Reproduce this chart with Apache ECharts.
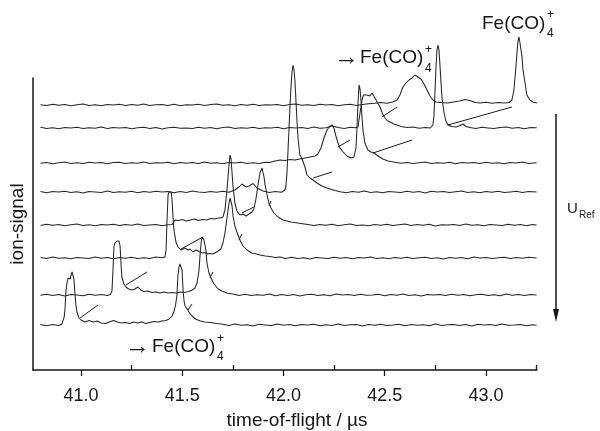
<!DOCTYPE html>
<html>
<head>
<meta charset="utf-8">
<script src="https://cdn.jsdelivr.net/npm/echarts@6/dist/echarts.min.js"></script>
<style>
  html, body { margin: 0; padding: 0; background: #fff; }
  #chart { width: 600px; height: 431px; }
</style>
</head>
<body>
<div id="chart"></div>
<script>
// Stacked time-of-flight spectra; each trace is [time / µs, ion signal] relative to its own baseline.
const traceOffsets = [45, 75, 112, 145, 178, 207, 242, 265];

const trace1 = [[40.80,0.5],[40.83,-0.8],[40.86,0.6],[40.89,-0.4],[40.905,0.8],[40.912,2],[40.917,8],[40.921,16],[40.926,35],[40.931,42],[40.936,47],[40.941,48],[40.946,46],[40.951,50],[40.956,53],[40.960,54],[40.965,46],[40.970,32],[40.975,20],[40.980,13],[40.990,7],[41.000,5],[41.02,3],[41.04,4.5],[41.06,3],[41.08,4],[41.10,2],[41.12,1.5],[41.14,3],[41.16,4.5],[41.18,3],[41.20,2],[41.22,2.5],[41.24,1.5],[41.26,3],[41.28,2],[41.30,3],[41.32,1.5],[41.34,2.5],[41.36,3.5],[41.38,3],[41.40,4],[41.42,4.5],[41.435,6],[41.450,9],[41.460,14],[41.467,20],[41.474,30],[41.479,50],[41.484,58],[41.489,61],[41.494,60],[41.499,55],[41.504,35],[41.509,24],[41.514,19],[41.524,16],[41.536,12],[41.548,9],[41.565,6],[41.59,4],[41.61,3],[41.64,2.5],[41.67,1.5],[41.70,0.8],[41.73,-0.4],[41.76,0.9],[41.79,-0.3],[41.82,0.2],[41.85,-0.9],[41.88,0.7],[41.91,0.1],[41.94,-0.6],[41.97,1.0],[42.00,-0.2],[42.03,0.4],[42.06,-0.8],[42.09,0.5],[42.12,-0.1],[42.15,0.8],[42.18,-0.7],[42.21,0.3],[42.24,-0.4],[42.27,0.9],[42.30,-0.6],[42.33,0.2],[42.36,0.6],[42.39,-0.9],[42.42,0.4],[42.45,-0.3],[42.48,0.7],[42.51,-0.5],[42.54,0.1],[42.57,0.8],[42.60,-0.8],[42.63,0.5],[42.66,-0.2],[42.69,0.3],[42.72,-0.7],[42.75,1.0],[42.78,-0.4],[42.81,0.2],[42.84,0.6],[42.87,-0.6],[42.90,0.4],[42.93,-0.9],[42.96,0.7],[42.99,-0.1],[43.02,0.5],[43.05,-0.5],[43.08,0.9],[43.11,-0.3],[43.14,0.1],[43.17,0.6],[43.20,-0.8],[43.23,0.3],[43.25,-0.2]];

const trace2 = [[40.80,-0.3],[40.83,0.7],[40.86,-0.6],[40.89,0.4],[40.92,-0.9],[40.95,0.6],[40.98,0.0],[41.01,-0.7],[41.04,0.8],[41.07,-0.2],[41.10,0.5],[41.13,-0.6],[41.145,0.4],[41.153,4],[41.158,25],[41.163,49],[41.168,52],[41.173,51],[41.178,54],[41.183,52],[41.188,54],[41.193,49],[41.198,30],[41.202,18],[41.212,11],[41.222,8],[41.235,6],[41.25,5],[41.267,6],[41.281,8],[41.295,5],[41.31,3.5],[41.33,4],[41.35,2.5],[41.37,3],[41.39,2],[41.41,3],[41.43,2],[41.45,2.5],[41.47,2],[41.49,3],[41.51,2.5],[41.53,3.5],[41.55,5],[41.563,7],[41.573,12],[41.583,25],[41.588,40],[41.593,52],[41.598,58],[41.602,60],[41.607,55],[41.612,50],[41.617,45],[41.622,32],[41.632,22],[41.642,17],[41.657,11],[41.677,6],[41.696,4],[41.72,2],[41.75,1],[41.78,-0.5],[41.81,0.8],[41.84,-0.6],[41.87,0.3],[41.90,-0.2],[41.93,0.9],[41.96,-0.7],[41.99,0.4],[42.02,-0.4],[42.05,0.6],[42.08,-0.9],[42.11,0.2],[42.14,0.7],[42.17,-0.5],[42.20,0.3],[42.23,-0.8],[42.26,0.9],[42.29,-0.1],[42.32,0.5],[42.35,-0.6],[42.38,0.8],[42.41,-0.3],[42.44,0.1],[42.47,0.7],[42.50,-0.7],[42.53,0.4],[42.56,-0.2],[42.59,0.9],[42.62,-0.5],[42.65,0.2],[42.68,-0.9],[42.71,0.6],[42.74,-0.1],[42.77,0.4],[42.80,-0.6],[42.83,0.8],[42.86,-0.3],[42.89,0.5],[42.92,-0.8],[42.95,0.2],[42.98,0.7],[43.01,-0.4],[43.04,0.3],[43.07,-0.7],[43.10,0.9],[43.13,-0.2],[43.16,0.4],[43.19,-0.6],[43.22,0.6],[43.25,-0.1]];

const trace3 = [[40.80,0.6],[40.83,-0.5],[40.86,0.9],[40.89,-0.3],[40.92,0.3],[40.95,-0.8],[40.98,0.5],[41.01,0.1],[41.04,-0.6],[41.07,0.9],[41.10,-0.2],[41.13,0.6],[41.16,-0.7],[41.19,0.4],[41.22,-0.3],[41.25,0.8],[41.28,-0.5],[41.31,0.2],[41.34,-0.6],[41.37,0.9],[41.40,0.2],[41.415,1],[41.420,8],[41.425,38],[41.430,63],[41.435,66],[41.440,64],[41.445,66],[41.450,58],[41.454,42],[41.459,28],[41.469,16],[41.479,11],[41.494,8],[41.504,9],[41.514,10],[41.528,8],[41.538,9],[41.553,6],[41.568,8],[41.578,7],[41.588,6],[41.600,5],[41.612,5.5],[41.625,4],[41.637,4.5],[41.650,4],[41.662,5],[41.677,7],[41.691,9],[41.701,15],[41.711,25],[41.721,40],[41.731,55],[41.736,60],[41.741,59],[41.746,52],[41.751,42],[41.760,32],[41.770,26],[41.785,18],[41.800,12],[41.820,8],[41.844,5],[41.865,4],[41.884,3],[41.91,2],[41.933,1.5],[41.96,0.5],[41.983,1],[42.01,-0.5],[42.04,0.7],[42.07,-0.4],[42.10,0.2],[42.13,-0.9],[42.16,0.5],[42.19,0.1],[42.22,-0.6],[42.25,0.8],[42.28,-0.2],[42.31,0.4],[42.34,-0.7],[42.37,0.6],[42.40,-0.1],[42.43,0.9],[42.46,-0.5],[42.49,0.3],[42.52,-0.8],[42.55,0.5],[42.58,-0.3],[42.61,0.7],[42.64,-0.6],[42.67,0.2],[42.70,0.8],[42.73,-0.4],[42.76,0.3],[42.79,-0.9],[42.82,0.6],[42.85,-0.2],[42.88,0.4],[42.91,-0.7],[42.94,0.9],[42.97,-0.1],[43.00,0.5],[43.03,-0.5],[43.06,0.2],[43.09,0.7],[43.12,-0.6],[43.15,0.4],[43.18,-0.3],[43.21,0.8],[43.25,0.1]];

const trace4 = [[40.80,-0.5],[40.83,0.8],[40.86,-0.2],[40.89,0.5],[40.92,-0.7],[40.95,0.3],[40.98,0.9],[41.01,-0.4],[41.04,0.2],[41.07,-0.8],[41.10,0.6],[41.13,-0.1],[41.16,0.7],[41.19,-0.6],[41.22,0.4],[41.25,-0.3],[41.28,0.9],[41.31,-0.5],[41.34,0.1],[41.37,0.6],[41.40,-0.7],[41.43,0.3],[41.450,0.5],[41.457,2.5],[41.464,5],[41.48,4.5],[41.50,5.5],[41.52,4],[41.54,5],[41.56,6],[41.58,4.5],[41.60,5.5],[41.62,5],[41.64,6.5],[41.66,6],[41.68,7],[41.691,7],[41.701,8],[41.711,15],[41.721,35],[41.731,60],[41.736,70],[41.741,66],[41.746,52],[41.751,38],[41.760,22],[41.770,14],[41.785,10],[41.800,11],[41.815,9],[41.830,11],[41.844,13],[41.854,16],[41.864,26],[41.874,40],[41.884,52],[41.894,57],[41.899,55],[41.904,48],[41.909,40],[41.919,30],[41.928,22],[41.938,17],[41.953,12],[41.973,8],[41.998,5],[42.037,3],[42.086,1.5],[42.12,0.4],[42.15,-0.6],[42.18,0.5],[42.21,-0.2],[42.24,0.8],[42.27,-0.7],[42.30,0.3],[42.33,0.9],[42.36,-0.4],[42.39,0.1],[42.42,-0.8],[42.45,0.6],[42.48,-0.3],[42.51,0.7],[42.54,-0.5],[42.57,0.2],[42.60,0.9],[42.63,-0.6],[42.66,0.4],[42.69,-0.2],[42.72,0.8],[42.75,-0.9],[42.78,0.3],[42.81,-0.1],[42.84,0.6],[42.87,-0.5],[42.90,0.9],[42.93,-0.3],[42.96,0.2],[42.99,-0.7],[43.02,0.5],[43.05,0.1],[43.08,-0.6],[43.11,0.8],[43.14,-0.2],[43.17,0.4],[43.20,-0.8],[43.23,0.6],[43.25,0.0]];

const trace5 = [[40.80,0.4],[40.83,-0.7],[40.86,0.5],[40.89,-0.1],[40.92,0.8],[40.95,-0.5],[40.98,0.2],[41.01,-0.9],[41.04,0.6],[41.07,0.1],[41.10,-0.4],[41.13,0.9],[41.16,-0.6],[41.19,0.3],[41.22,-0.2],[41.25,0.7],[41.28,-0.8],[41.31,0.5],[41.34,-0.3],[41.37,0.8],[41.40,-0.1],[41.43,0.4],[41.46,-0.7],[41.49,0.6],[41.52,-0.4],[41.55,0.9],[41.58,0.0],[41.61,-0.6],[41.64,0.5],[41.67,-0.2],[41.70,0.7],[41.73,-0.3],[41.760,2],[41.780,5],[41.795,8],[41.815,5],[41.830,6],[41.850,8.5],[41.869,4],[41.899,1],[41.93,-0.5],[41.96,0.6],[41.99,-0.2],[42.007,2],[42.012,6],[42.017,18],[42.022,40],[42.027,62],[42.032,85],[42.037,105],[42.042,120],[42.047,127],[42.052,122],[42.057,110],[42.062,90],[42.067,70],[42.072,54],[42.077,44],[42.081,37],[42.090,34],[42.096,32],[42.106,25],[42.116,17],[42.131,14],[42.146,12],[42.165,9],[42.190,6],[42.215,4],[42.254,1.5],[42.28,0.3],[42.31,-0.7],[42.34,0.5],[42.37,-0.2],[42.40,0.9],[42.43,-0.4],[42.46,0.2],[42.49,-0.8],[42.52,0.6],[42.55,0.1],[42.58,-0.5],[42.61,0.8],[42.64,-0.3],[42.67,0.4],[42.70,-0.9],[42.73,0.7],[42.76,-0.1],[42.79,0.5],[42.82,-0.6],[42.85,0.3],[42.88,0.9],[42.91,-0.4],[42.94,0.2],[42.97,-0.7],[43.00,0.6],[43.03,-0.2],[43.06,0.8],[43.09,-0.5],[43.12,0.1],[43.15,0.7],[43.18,-0.6],[43.21,0.4],[43.25,-0.1]];

const trace6 = [[40.80,-0.2],[40.83,0.6],[40.86,-0.7],[40.89,0.3],[40.92,0.9],[40.95,-0.4],[40.98,0.2],[41.01,-0.6],[41.04,0.7],[41.07,-0.1],[41.10,0.5],[41.13,-0.8],[41.16,0.4],[41.19,0.8],[41.22,-0.5],[41.25,0.2],[41.28,-0.3],[41.31,0.9],[41.34,-0.6],[41.37,0.3],[41.40,-0.1],[41.43,0.7],[41.46,-0.8],[41.49,0.5],[41.52,-0.2],[41.55,0.6],[41.58,-0.5],[41.61,0.9],[41.64,-0.3],[41.67,0.2],[41.70,-0.7],[41.73,0.5],[41.76,0.0],[41.79,0.8],[41.82,-0.4],[41.85,0.3],[41.88,-0.6],[41.91,0.7],[41.933,0.5],[41.958,2],[41.983,3],[42.007,2.5],[42.032,3.5],[42.057,3],[42.081,4],[42.106,5],[42.131,6],[42.156,7],[42.170,9],[42.185,15],[42.200,25],[42.215,33],[42.230,37],[42.240,38],[42.249,35],[42.259,27],[42.269,20],[42.279,15],[42.294,11],[42.314,7],[42.333,5],[42.348,6],[42.358,15],[42.363,35],[42.368,60],[42.373,78],[42.378,74],[42.383,62],[42.388,45],[42.393,32],[42.402,20],[42.417,13],[42.432,11],[42.447,10],[42.467,7],[42.491,4],[42.516,2],[42.551,0.8],[42.58,-0.3],[42.61,0.6],[42.64,-0.5],[42.67,0.2],[42.70,0.9],[42.73,-0.6],[42.76,0.3],[42.79,-0.2],[42.82,0.7],[42.85,-0.8],[42.88,0.4],[42.91,0.0],[42.94,0.6],[42.97,-0.5],[43.00,0.8],[43.03,-0.3],[43.06,0.2],[43.09,-0.7],[43.12,0.5],[43.15,0.1],[43.18,0.9],[43.21,-0.4],[43.25,0.3]];

const trace7 = [[40.80,0.7],[40.83,-0.4],[40.86,0.2],[40.89,-0.8],[40.92,0.5],[40.95,0.0],[40.98,0.8],[41.01,-0.5],[41.04,0.3],[41.07,-0.2],[41.10,0.9],[41.13,-0.6],[41.16,0.4],[41.19,-0.1],[41.22,0.6],[41.25,-0.7],[41.28,0.2],[41.31,0.8],[41.34,-0.4],[41.37,0.5],[41.40,-0.9],[41.43,0.3],[41.46,0.7],[41.49,-0.3],[41.52,0.1],[41.55,-0.6],[41.58,0.8],[41.61,-0.2],[41.64,0.5],[41.67,-0.8],[41.70,0.4],[41.73,0.9],[41.76,-0.5],[41.79,0.2],[41.82,-0.3],[41.85,0.7],[41.88,-0.6],[41.91,0.3],[41.94,-0.1],[41.97,0.8],[42.00,-0.7],[42.03,0.4],[42.06,0.0],[42.09,0.6],[42.12,-0.5],[42.15,0.9],[42.18,-0.2],[42.21,0.3],[42.24,2],[42.27,0.5],[42.30,-0.4],[42.33,0.7],[42.355,0.2],[42.368,1],[42.378,15],[42.388,28],[42.395,33],[42.402,35],[42.410,33],[42.417,34],[42.427,32],[42.437,35],[42.452,30],[42.465,25],[42.477,21],[42.490,14],[42.501,10],[42.515,7],[42.526,6],[42.545,4],[42.561,3],[42.58,1.5],[42.61,0.4],[42.64,1],[42.67,-0.3],[42.70,0.6],[42.725,0],[42.738,3],[42.743,12],[42.748,35],[42.753,60],[42.758,78],[42.763,83],[42.768,78],[42.773,62],[42.778,45],[42.783,30],[42.793,15],[42.802,7],[42.812,3],[42.832,1.5],[42.852,1],[42.872,2.5],[42.887,4],[42.901,1.5],[42.921,0.5],[42.95,-0.4],[42.98,0.7],[43.01,0.1],[43.04,-0.6],[43.07,0.5],[43.10,0.9],[43.13,-0.2],[43.16,0.4],[43.19,-0.7],[43.22,0.6],[43.25,0.2]];

const trace8 = [[40.80,0.3],[40.83,-0.6],[40.86,0.8],[40.89,-0.2],[40.92,0.5],[40.95,-0.7],[40.98,0.2],[41.01,0.9],[41.04,-0.4],[41.07,0.3],[41.10,-0.8],[41.13,0.6],[41.16,0.0],[41.19,0.7],[41.22,-0.5],[41.25,0.4],[41.28,-0.2],[41.31,0.9],[41.34,-0.6],[41.37,0.2],[41.40,0.6],[41.43,-0.4],[41.46,0.8],[41.49,-0.7],[41.52,0.3],[41.55,-0.1],[41.58,0.7],[41.61,-0.6],[41.64,0.4],[41.67,0.9],[41.70,-0.3],[41.73,0.2],[41.76,-0.8],[41.79,0.5],[41.82,-0.2],[41.85,0.8],[41.88,-0.5],[41.91,0.3],[41.94,-0.1],[41.97,0.6],[42.00,-0.7],[42.03,0.4],[42.06,0.9],[42.09,-0.3],[42.12,0.2],[42.15,-0.6],[42.18,0.7],[42.21,-0.1],[42.24,0.5],[42.27,-0.8],[42.30,0.3],[42.33,0.8],[42.36,-0.4],[42.39,0.6],[42.42,1.2],[42.45,1.8],[42.48,2.5],[42.51,1.8],[42.54,3],[42.561,5],[42.575,10],[42.590,18],[42.605,22],[42.620,25],[42.635,27],[42.649,30],[42.664,28],[42.679,26],[42.694,21],[42.709,15],[42.723,9],[42.738,5],[42.753,3],[42.78,2.5],[42.81,2],[42.84,3],[42.87,4],[42.896,5.5],[42.921,4.5],[42.946,2.5],[42.97,2],[43.00,2.8],[43.03,1.8],[43.06,2.5],[43.09,2],[43.115,2.5],[43.128,5],[43.138,15],[43.148,38],[43.153,52],[43.158,64],[43.163,68],[43.168,62],[43.173,55],[43.178,48],[43.183,35],[43.193,22],[43.202,10],[43.217,5],[43.232,3],[43.252,2]];

const traces = [trace1, trace2, trace3, trace4, trace5, trace6, trace7, trace8];

// Guide strokes on individual traces: [trace index, t1, signal1, t2, signal2]
const decayMarks = [
  [0, 40.995, 7, 41.084, 20],
  [0, 41.529, 15, 41.548, 21],
  [1, 41.222, 10, 41.326, 23],
  [1, 41.637, 17, 41.652, 23],
  [2, 41.494, 9, 41.602, 21],
  [2, 41.780, 18, 41.795, 24],
  [3, 41.795, 12, 41.854, 18],
  [3, 41.928, 19, 41.938, 24],
  [4, 42.146, 14, 42.240, 20],
  [5, 42.269, 16, 42.328, 23],
  [5, 42.442, 10, 42.635, 23],
  [6, 42.486, 11, 42.561, 21],
  [6, 42.812, 3, 43.128, 21]
];

const majorTicks = [41.0, 41.5, 42.0, 42.5, 43.0];
const minorTicks = [41.25, 41.75, 42.25, 42.75, 43.25];

const FONT = '"Liberation Sans", Arial, Helvetica, sans-serif';
const INK = '#161616';

const chart = echarts.init(document.getElementById('chart'), null, { renderer: 'canvas' });

const series = traces.map((tr, i) => ({
  type: 'line',
  xAxisIndex: 0,
  data: tr.map(p => [p[0], p[1] + traceOffsets[i]]),
  symbol: 'none',
  clip: false,
  silent: true,
  animation: false,
  lineStyle: { color: '#262626', width: 1.05 }
}));

decayMarks.forEach(m => {
  const off = traceOffsets[m[0]];
  series.push({
    type: 'line',
    xAxisIndex: 0,
    data: [[m[1], m[2] + off], [m[3], m[4] + off]],
    symbol: 'none',
    clip: false,
    silent: true,
    animation: false,
    lineStyle: { color: '#1e1e1e', width: 1 }
  });
});

function label(x, y, text, size, align) {
  return {
    type: 'text', x: x, y: y, silent: true,
    style: { text: text, font: size + 'px ' + FONT, fill: INK, align: align || 'left', verticalAlign: 'middle' }
  };
}

chart.setOption({
  animation: false,
  backgroundColor: '#ffffff',
  grid: { left: 33, right: 63, top: 78, bottom: 61, containLabel: false, outerBoundsMode: 'none' },
  xAxis: [
    {
      type: 'value', min: 40.763, max: 43.252, position: 'bottom',
      name: 'time-of-flight / µs', nameLocation: 'middle', nameGap: 41,
      nameTextStyle: { fontFamily: FONT, fontSize: 19, color: INK, padding: [0, 0, 0, 24] },
      axisLine: { show: true, lineStyle: { color: INK, width: 1.5 } },
      axisTick: { show: true, inside: false, length: 6, customValues: majorTicks, lineStyle: { color: INK, width: 1.3 } },
      axisLabel: { show: true, customValues: majorTicks, margin: 17, fontFamily: FONT, fontSize: 18, color: INK,
        formatter: v => v.toFixed(1) },
      splitLine: { show: false }
    },
    {
      type: 'value', min: 40.763, max: 43.252, position: 'bottom',
      axisLine: { show: false },
      axisTick: { show: true, inside: true, length: 5, customValues: minorTicks, lineStyle: { color: INK, width: 1.3 } },
      axisLabel: { show: false },
      splitLine: { show: false }
    }
  ],
  yAxis: {
    type: 'value', min: 0, max: 292,
    name: 'ion-signal', nameLocation: 'middle', nameGap: 6,
    nameTextStyle: { fontFamily: FONT, fontSize: 19, color: INK },
    axisLine: { show: true, lineStyle: { color: INK, width: 1.5 } },
    axisTick: { show: false },
    axisLabel: { show: false },
    splitLine: { show: false }
  },
  series: series,
  graphic: [
    // parent ion label at the top-right peak
    label(482, 24, 'Fe(CO)', 19),
    label(547, 15, '+', 12),
    label(547, 34, '4', 12),
    // metastable fragment labels
    label(334, 58, '→', 25),
    label(360, 58, 'Fe(CO)', 19),
    label(425, 50, '+', 12),
    label(425, 69, '4', 12),
    label(125, 347, '→', 25),
    label(152, 347, 'Fe(CO)', 19),
    label(217, 339, '+', 12),
    label(217, 357, '4', 12),
    // reflectron voltage direction
    { type: 'line', silent: true, shape: { x1: 556, y1: 114, x2: 556, y2: 312 }, style: { stroke: INK, lineWidth: 1.5 } },
    { type: 'polygon', silent: true, shape: { points: [[553, 309], [559, 309], [556, 322]] }, style: { fill: INK } },
    label(567, 209, 'U', 15),
    label(579, 215, 'Ref', 10)
  ]
});
</script>
</body>
</html>
